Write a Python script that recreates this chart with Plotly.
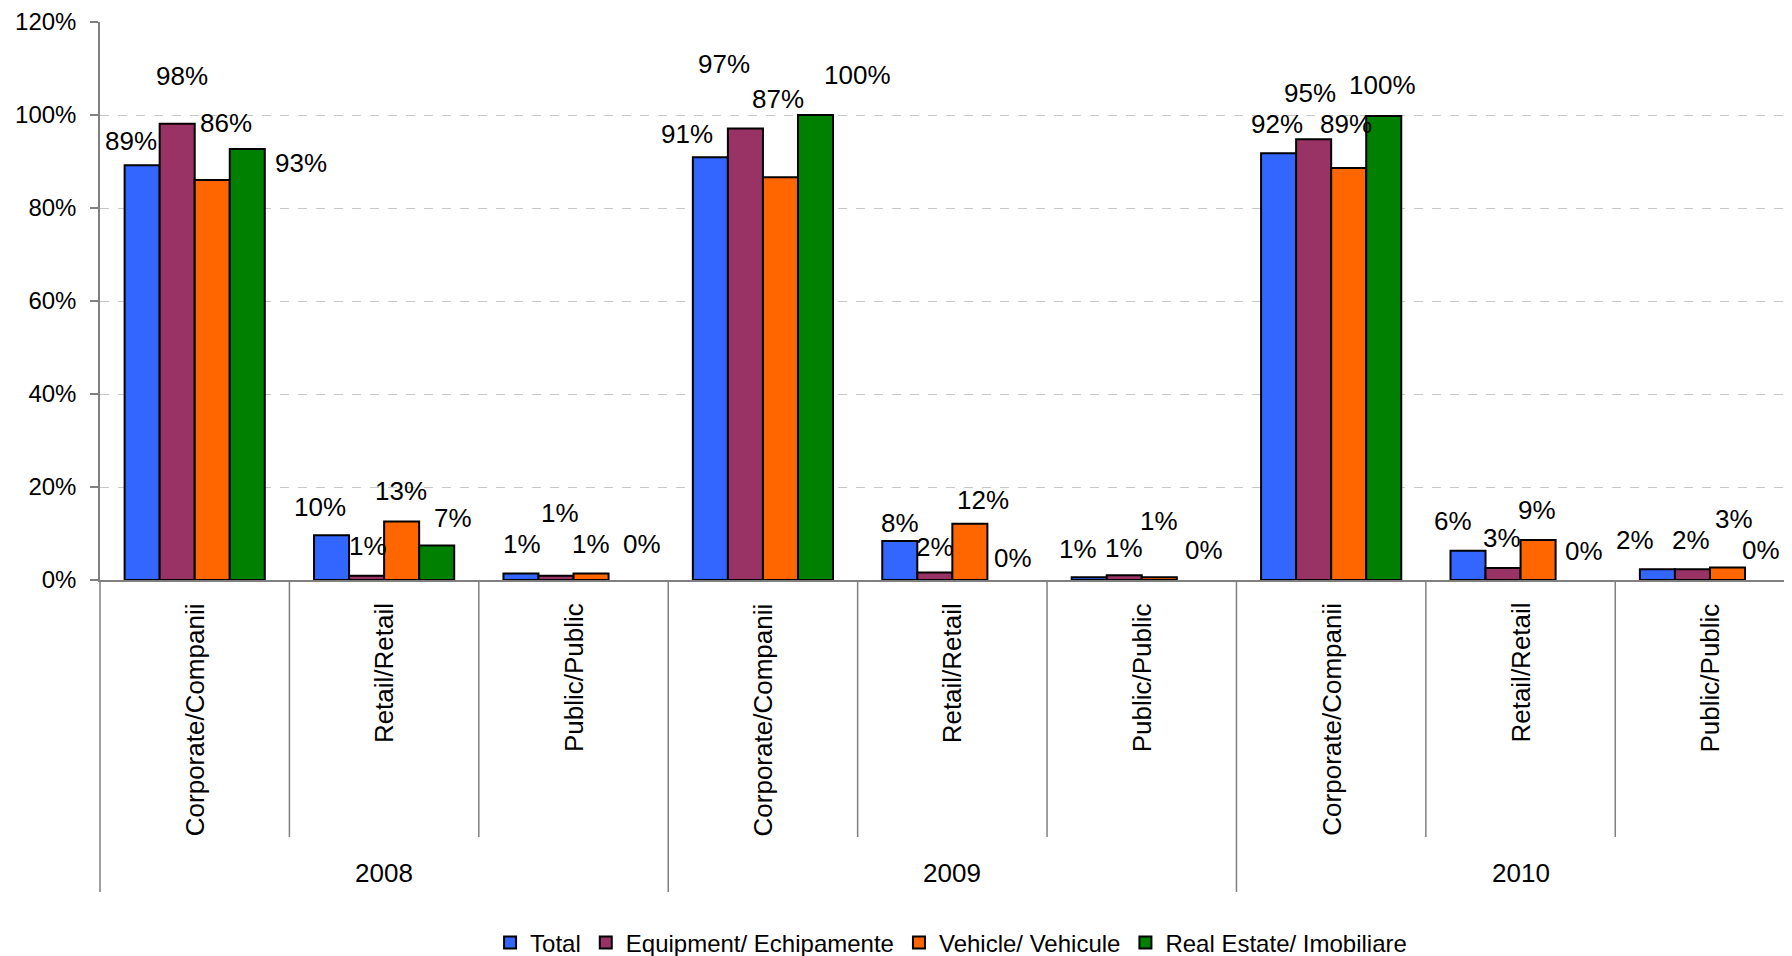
import plotly.graph_objects as go

# ---------------- data ----------------
years = ["2008", "2009", "2010"]
segments = ["Corporate/Companii", "Retail/Retail", "Public/Public"]
series_names = ["Total", "Equipment/ Echipamente", "Vehicle/ Vehicule", "Real Estate/ Imobiliare"]

# values in percent, one per (year, segment) in order
total = [89.2, 9.6, 1.4, 90.9, 8.4, 0.6, 91.8, 6.3, 2.3]
equipment = [98.1, 0.9, 0.9, 97.1, 1.6, 1.0, 94.8, 2.6, 2.3]
vehicle = [86.0, 12.6, 1.4, 86.6, 12.1, 0.6, 88.6, 8.6, 2.7]
real_estate = [92.7, 7.4, 0.0, 100.0, 0.0, 0.0, 99.8, 0.0, 0.0]

y_ticks = [0, 20, 40, 60, 80, 100, 120]

# ---------------- styling ----------------
colors = ["#3366FF", "#993366", "#FF6600", "#008000"]
FONT = "Liberation Sans, Arial, sans-serif"

# label pixel offsets (dx, dy) relative to the top centre of each bar, as in the reference
label_offsets = [
    [(-11, -24), (-12, -28), (1, -29), (-23, -23), (0, -18), (-11, -28), (-2, -29), (-15, -30), (-22, -29)],
    [(5, -48), (1, -30), (4, -63), (-21, -64), (0, -26), (0, -27), (-4, -46), (-1, -30), (-1, -29)],
    [(14, -57), (-1, -30), (0, -29), (-2, -78), (13, -24), (0, -56), (-3, -44), (-1, -30), (6, -48)],
    [(54, 14), (16, -28), (16, -36), (42, -40), (8, -22), (10, -30), (-1, -31), (11, -29), (-2, -30)],
]

series = [total, equipment, vehicle, real_estate]
n_cat = len(years) * len(segments)
xs = list(range(n_cat))
bargap = 0.26

# the page body has an 8px default margin; figure is sized so the plot lands where the reference has it
W, H = 1784, 948
PLOT_TOP, PLOT_BOTTOM = 14, 572
plot_h = PLOT_BOTTOM - PLOT_TOP

fig = go.Figure()
for name, vals, col in zip(series_names, series, colors):
    fig.add_trace(go.Bar(
        x=xs, y=vals, name=name,
        marker=dict(color=col, line=dict(color="#000000", width=[2 if v > 0 else 0 for v in vals])),
        hoverinfo="skip",
    ))

annotations = []
bw = (1 - bargap) / len(series)
for j, vals in enumerate(series):
    for i, v in enumerate(vals):
        dx, dy = label_offsets[j][i]
        annotations.append(dict(
            x=i + (j - (len(series) - 1) / 2) * bw, y=v, xref="x", yref="y",
            text=f"{round(v)}%", showarrow=False,
            xanchor="center", yanchor="middle", xshift=dx, yshift=-dy,
            font=dict(size=26, color="#000000", family=FONT),
        ))

# segment labels (rotated) and year labels
for yi, yr in enumerate(years):
    for si, seg in enumerate(segments):
        i = yi * len(segments) + si
        annotations.append(dict(
            x=i, y=0, xref="x", yref="paper", text=seg, showarrow=False,
            textangle=-90, xanchor="center", yanchor="top", yshift=-21,
            font=dict(size=26, color="#000000", family=FONT),
        ))
    annotations.append(dict(
        x=yi * len(segments) + (len(segments) - 1) / 2, y=0, xref="x", yref="paper",
        text=yr, showarrow=False, xanchor="center", yanchor="middle", yshift=-293,
        font=dict(size=26, color="#000000", family=FONT),
    ))

# divider lines of the category axis
shapes = []
for b in range(n_cat):
    xb = b - 0.5
    major = (b % len(segments) == 0)
    depth = 312 if major else 257
    if b == 0:
        shapes.append(dict(type="line", xref="paper", yref="paper", x0=0, x1=0,
                           y0=0, y1=-depth / plot_h, line=dict(color="#808080", width=1.5)))
    else:
        shapes.append(dict(type="line", xref="x", yref="paper", x0=xb, x1=xb,
                           y0=0, y1=-depth / plot_h, line=dict(color="#808080", width=1.5)))

fig.update_layout(
    width=W, height=H,
    margin=dict(l=92, r=0, t=PLOT_TOP, b=H - PLOT_BOTTOM, autoexpand=False),
    paper_bgcolor="white", plot_bgcolor="white",
    barmode="group", bargap=bargap, bargroupgap=0,
    font=dict(family=FONT, color="#000000"),
    showlegend=True,
    legend=dict(orientation="h", x=0.503, y=(H - 935) / H, yref="container",
                xanchor="center", yanchor="middle",
                font=dict(size=24, color="#000000", family=FONT), itemwidth=30,
                traceorder="normal"),
    annotations=annotations,
    shapes=shapes,
    xaxis=dict(range=[-0.5, 8.433], showticklabels=False, ticks="", showgrid=False, automargin=False,
               zeroline=False, showline=True, linecolor="#808080", linewidth=1.5, fixedrange=True),
    yaxis=dict(range=[0, 120], tickvals=y_ticks, ticktext=[f"{t}%" for t in y_ticks], automargin=False,
               ticks="outside", ticklen=8, tickcolor="#808080", tickwidth=1.5,
               showline=True, linecolor="#808080", linewidth=1.5,
               showgrid=True, gridcolor="#C8C8C8", griddash="dash", gridwidth=1,
               zeroline=False, ticklabelstandoff=9,
               tickfont=dict(size=24, color="#000000", family=FONT), fixedrange=True),
)

fig.write_html("out.html")
